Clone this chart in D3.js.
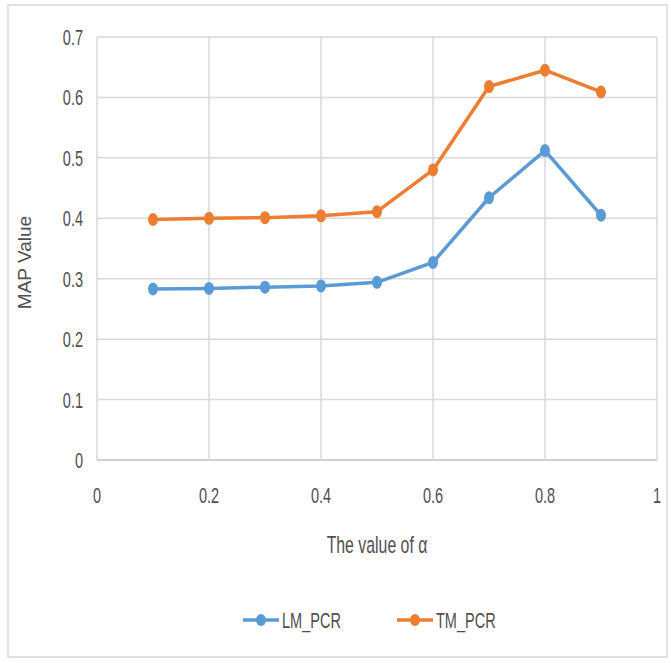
<!DOCTYPE html>
<html>
<head>
<meta charset="utf-8">
<script src="https://cdn.jsdelivr.net/npm/d3@7"></script>
<style>
  body { margin: 0; background: #fff; }
  .narrow { font-family: 'Liberation Sans', Arial, sans-serif; fill: #505050; }
</style>
</head>
<body>
<svg id="chart"></svg>
<script>
const alphaValues = [0.1, 0.2, 0.3, 0.4, 0.5, 0.6, 0.7, 0.8, 0.9]
const lmPcr = [0.283, 0.284, 0.286, 0.288, 0.294, 0.327, 0.434, 0.512, 0.405]
const tmPcr = [0.398, 0.400, 0.401, 0.404, 0.411, 0.480, 0.618, 0.645, 0.609]
const seriesNames = ['LM_PCR', 'TM_PCR']
const xTicks = [0, 0.2, 0.4, 0.6, 0.8, 1]
const yTicks = [0, 0.1, 0.2, 0.3, 0.4, 0.5, 0.6, 0.7]

const width = 671
const height = 663
const plotLeft = 97, plotRight = 657, plotTop = 37, plotBottom = 460
const colors = ['#5b9bd5', '#ed7d31']
const squeeze = 0.66 // condensed look of the original font

const svg = d3.select('#chart')
    .attr('width', width)
    .attr('height', height)

// Outer frame
svg.append('rect')
    .attr('x', 8).attr('y', 5)
    .attr('width', 659).attr('height', 652)
    .attr('fill', '#fff')
    .attr('stroke', '#d9d9d9')
    .attr('stroke-width', 1.5)

const x = d3.scaleLinear().domain([0, 1]).range([plotLeft, plotRight])
const y = d3.scaleLinear().domain([0, 0.7]).range([plotBottom, plotTop])

// Gridlines
svg.append('g').selectAll('line')
    .data(yTicks)
    .join('line')
    .attr('x1', plotLeft).attr('x2', plotRight)
    .attr('y1', d => y(d)).attr('y2', d => y(d))
    .attr('stroke', d => d === 0 ? '#bfbfbf' : '#d9d9d9')
    .attr('stroke-width', 1.5)

svg.append('g').selectAll('line')
    .data(xTicks)
    .join('line')
    .attr('x1', d => x(d)).attr('x2', d => x(d))
    .attr('y1', plotTop).attr('y2', plotBottom)
    .attr('stroke', '#d9d9d9')
    .attr('stroke-width', 1.5)

// Tick labels
svg.append('g').selectAll('text')
    .data(yTicks)
    .join('text')
    .classed('narrow', true)
    .attr('transform', d => `translate(${plotLeft - 14},${y(d)}) scale(${squeeze},1)`)
    .attr('dy', '0.36em')
    .attr('text-anchor', 'end')
    .attr('font-size', 22)
    .text(d => d3.format('')(d))

svg.append('g').selectAll('text')
    .data(xTicks)
    .join('text')
    .classed('narrow', true)
    .attr('transform', d => `translate(${x(d)},${plotBottom + 43}) scale(${squeeze},1)`)
    .attr('text-anchor', 'middle')
    .attr('font-size', 22)
    .text(d => d3.format('')(d))

// Axis titles
svg.append('text')
    .classed('narrow', true)
    .attr('transform', `translate(${(plotLeft + plotRight) / 2},553) scale(${squeeze},1)`)
    .attr('text-anchor', 'middle')
    .attr('font-size', 24)
    .text('The value of α')

svg.append('text')
    .attr('transform', `translate(31,${(plotTop + plotBottom) / 2 + 14}) rotate(-90)`)
    .attr('text-anchor', 'middle')
    .attr('font-family', 'Liberation Sans, Arial, sans-serif')
    .attr('font-size', 19)
    .attr('fill', '#505050')
    .text('MAP Value')

// Series
const allSeries = [lmPcr, tmPcr]
const line = d3.line()
    .x((d, i) => x(alphaValues[i]))
    .y(d => y(d))

allSeries.forEach((values, s) => {
    const g = svg.append('g')
    g.append('path')
        .datum(values)
        .attr('d', line)
        .attr('fill', 'none')
        .attr('stroke', colors[s])
        .attr('stroke-width', 3.5)
        .attr('stroke-linejoin', 'round')
    g.selectAll('ellipse')
        .data(values)
        .join('ellipse')
        .attr('cx', (d, i) => x(alphaValues[i]))
        .attr('cy', d => y(d))
        .attr('rx', 5)
        .attr('ry', 6.5)
        .attr('fill', colors[s])
})

// Legend
const legendX = [243, 397]
const legend = svg.append('g')
seriesNames.forEach((name, i) => {
    const lg = legend.append('g').attr('transform', `translate(${legendX[i]},620)`)
    lg.append('line')
        .attr('x1', 0).attr('x2', 36)
        .attr('stroke', colors[i])
        .attr('stroke-width', 3.5)
    lg.append('ellipse')
        .attr('cx', 18).attr('rx', 5).attr('ry', 6)
        .attr('fill', colors[i])
    lg.append('text')
        .classed('narrow', true)
        .attr('transform', `translate(39,0) scale(${squeeze},1)`)
        .attr('dy', '0.36em')
        .attr('font-size', 22)
        .text(name)
})
</script>
</body>
</html>
